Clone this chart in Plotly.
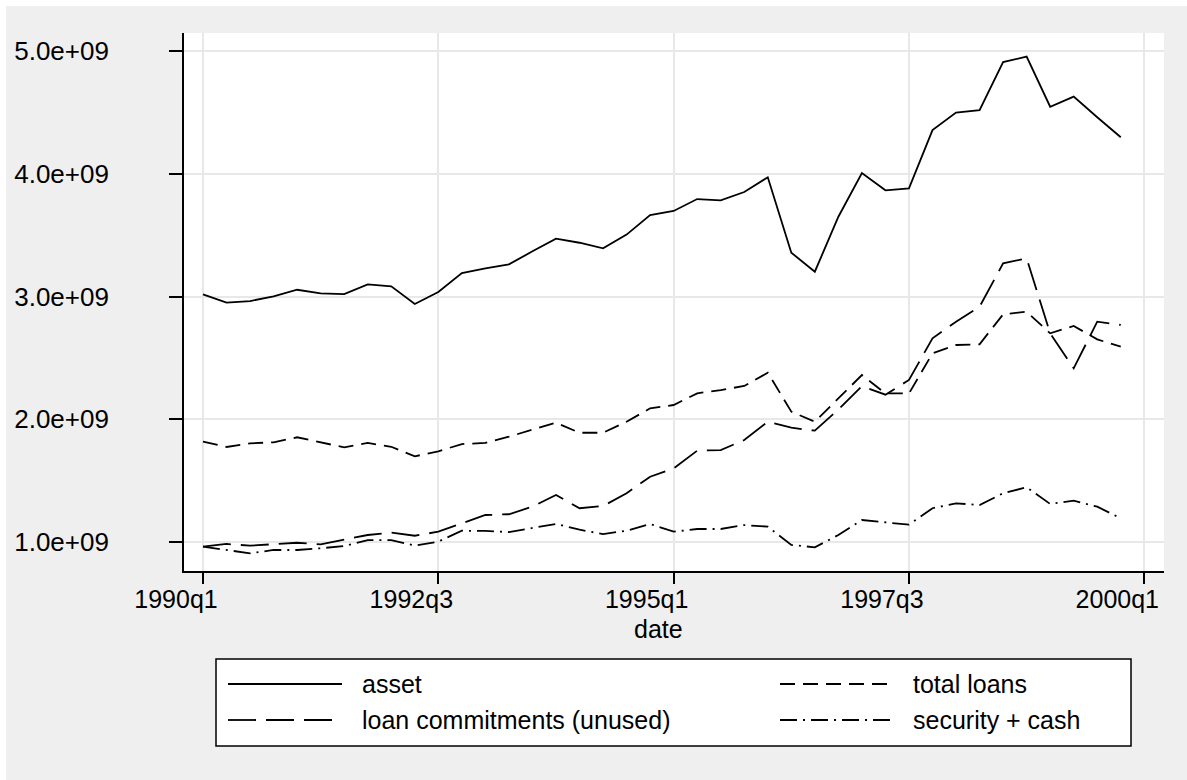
import plotly.graph_objects as go

# Quarterly balance-sheet aggregates, 1990q1 - 1999q4
years = list(range(1990, 2000))
quarter_pos = [y + (q - 1) / 4 for y in years for q in (1, 2, 3, 4)]

asset = [3.018, 2.950, 2.963, 3.001, 3.055, 3.026, 3.020, 3.099, 3.083, 2.939,
         3.037, 3.191, 3.230, 3.262, 3.368, 3.471, 3.438, 3.393, 3.504, 3.664,
         3.697, 3.794, 3.783, 3.851, 3.971, 3.357, 3.202, 3.650, 4.006, 3.865,
         3.881, 4.356, 4.498, 4.519, 4.910, 4.954, 4.546, 4.628, 4.460, 4.297]
total_loans = [1.817, 1.774, 1.804, 1.812, 1.853, 1.815, 1.771, 1.807, 1.776, 1.698,
               1.739, 1.798, 1.807, 1.858, 1.912, 1.972, 1.890, 1.890, 1.980, 2.089,
               2.116, 2.211, 2.238, 2.271, 2.379, 2.062, 1.980, 2.170, 2.360, 2.210,
               2.210, 2.537, 2.605, 2.611, 2.855, 2.876, 2.700, 2.760, 2.651, 2.591]
loan_commitments = [0.962, 0.984, 0.970, 0.984, 0.994, 0.981, 1.022, 1.057, 1.076, 1.051,
                    1.084, 1.152, 1.220, 1.226, 1.288, 1.383, 1.275, 1.293, 1.397, 1.532,
                    1.600, 1.744, 1.749, 1.831, 1.980, 1.931, 1.907, 2.080, 2.270, 2.200,
                    2.320, 2.659, 2.795, 2.917, 3.270, 3.311, 2.700, 2.415, 2.795, 2.768]
security_cash = [0.962, 0.935, 0.908, 0.935, 0.935, 0.949, 0.967, 1.016, 1.016, 0.970,
                 1.003, 1.092, 1.090, 1.081, 1.111, 1.147, 1.100, 1.065, 1.092, 1.147,
                 1.084, 1.106, 1.106, 1.138, 1.125, 0.976, 0.957, 1.057, 1.179, 1.160,
                 1.141, 1.275, 1.315, 1.301, 1.397, 1.446, 1.310, 1.337, 1.288, 1.193]

x_tickvals = [1990, 1992.5, 1995, 1997.5, 2000]
x_ticktext = ["1990q1", "1992q3", "1995q1", "1997q3", "2000q1"]
y_tickvals = [1e9, 2e9, 3e9, 4e9, 5e9]
y_ticktext = ["1.0e+09", "2.0e+09", "3.0e+09", "4.0e+09", "5.0e+09"]

series_names = ["asset", "total loans", "loan commitments (unused)", "security + cash"]
series_values = [asset, total_loans, loan_commitments, security_cash]
series_dash = ["solid", "15px,8px", "28px,10px", "17px,6px,2px,6px"]

FONT = "Liberation Sans, Arial, sans-serif"
W, H = 1187, 780
L, R, T, B = 184, 23, 33, 209
PW, PH = W - L - R, H - T - B
BG = "#EFEFEF"
LW = 1.8


def px(xp):
    return (xp - L) / PW


def py(yp):
    return (H - B - yp) / PH


fig = go.Figure()
for name, vals, dash in zip(series_names, series_values, series_dash):
    fig.add_trace(go.Scatter(
        x=quarter_pos, y=[v * 1e9 for v in vals], mode="lines", name=name,
        line=dict(color="black", width=LW, dash=dash), showlegend=False,
    ))

shapes = [
    # thin white frame along the top and left edge of the canvas
    dict(type="rect", xref="paper", yref="paper", x0=px(0), x1=px(W), y0=py(0), y1=py(6),
         fillcolor="white", line=dict(width=0), layer="above"),
    dict(type="rect", xref="paper", yref="paper", x0=px(0), x1=px(6), y0=py(0), y1=py(H),
         fillcolor="white", line=dict(width=0), layer="above"),
    # legend box
    dict(type="rect", xref="paper", yref="paper", x0=px(216), x1=px(1131), y0=py(659), y1=py(746),
         fillcolor="white", line=dict(color="black", width=1.5), layer="above"),
]
annotations = []

key_slots = [(228, 342, 360, 684), (780, 893, 911, 684), (228, 342, 360, 720), (780, 893, 911, 720)]
for (x0, x1, xt, yr), name, dash in zip(key_slots, series_names, series_dash):
    shapes.append(dict(type="line", xref="paper", yref="paper", x0=px(x0), x1=px(x1),
                       y0=py(yr), y1=py(yr), line=dict(color="black", width=LW, dash=dash),
                       layer="above"))
    annotations.append(dict(text=name, xref="paper", yref="paper", x=px(xt), y=py(yr),
                            xanchor="left", yanchor="middle", showarrow=False,
                            font=dict(family=FONT, size=25, color="black")))

annotations.append(dict(text="date", xref="paper", yref="paper", x=px(658.6), y=py(629),
                        xanchor="center", yanchor="middle", showarrow=False,
                        font=dict(family=FONT, size=25, color="black")))

fig.update_layout(
    width=W, height=H,
    margin=dict(l=L, r=R, t=T, b=B, pad=0),
    paper_bgcolor=BG, plot_bgcolor="white",
    font=dict(family=FONT, color="black"),
    shapes=shapes, annotations=annotations,
    showlegend=False,
)
fig.update_xaxes(
    range=[1990 - 19 / 94.1, 1990 + 960.7 / 94.1],
    tickvals=x_tickvals, ticktext=x_ticktext,
    showgrid=True, gridcolor="#E8E8E8", gridwidth=2, zeroline=False,
    showline=True, linecolor="black", linewidth=1.7,
    ticks="outside", ticklen=11, tickwidth=1.5, tickcolor="black",
    tickfont=dict(family=FONT, size=25), ticklabelshift=-27, ticklabelstandoff=-6,
)
fig.update_yaxes(
    range=[(1 - 29 / 122.75) * 1e9, (5 + 18 / 122.75) * 1e9],
    tickvals=y_tickvals, ticktext=y_ticktext,
    showgrid=True, gridcolor="#E8E8E8", gridwidth=2, zeroline=False,
    showline=True, linecolor="black", linewidth=1.7,
    ticks="outside", ticklen=13, tickwidth=1.5, tickcolor="black",
    tickfont=dict(family=FONT, size=26), ticklabelstandoff=55,
)

fig.write_html("out.html")
